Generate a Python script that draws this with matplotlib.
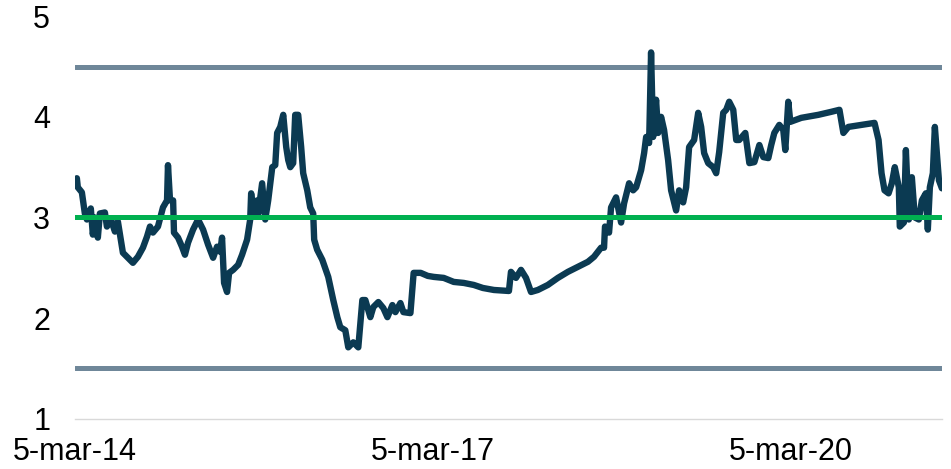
import numpy as np
import pandas as pd
import matplotlib
matplotlib.use("Agg")
import matplotlib.pyplot as plt
import matplotlib.dates as mdates

plt.rcParams['font.family'] = ['Liberation Sans', 'DejaVu Sans']

# fechas en años decimales y valor de la serie
anios = [2014.187, 2014.195, 2014.229, 2014.254, 2014.271, 2014.304, 2014.321, 2014.338,
         2014.363, 2014.380, 2014.422, 2014.439, 2014.473, 2014.506, 2014.531, 2014.573,
         2014.615, 2014.657, 2014.699, 2014.741, 2014.775, 2014.800, 2014.825, 2014.867,
         2014.909, 2014.943, 2014.951, 2014.968, 2014.994, 2015.002, 2015.036, 2015.069,
         2015.094, 2015.120, 2015.162, 2015.204, 2015.246, 2015.288, 2015.330, 2015.363,
         2015.389, 2015.405, 2015.422, 2015.447, 2015.464, 2015.498, 2015.540, 2015.573,
         2015.615, 2015.641, 2015.649, 2015.666, 2015.699, 2015.708, 2015.741, 2015.767,
         2015.792, 2015.826, 2015.851, 2015.867, 2015.893, 2015.918, 2015.943, 2015.960,
         2015.977, 2016.002, 2016.019, 2016.044, 2016.069, 2016.086, 2016.120, 2016.145,
         2016.170, 2016.178, 2016.203, 2016.246, 2016.296, 2016.338, 2016.372, 2016.397,
         2016.439, 2016.464, 2016.506, 2016.548, 2016.582, 2016.607, 2016.649, 2016.674,
         2016.716, 2016.758, 2016.792, 2016.834, 2016.859, 2016.901, 2016.926, 2016.985,
         2017.010, 2017.069, 2017.128, 2017.178, 2017.262, 2017.346, 2017.430, 2017.514,
         2017.590, 2017.683, 2017.809, 2017.826, 2017.868, 2017.910, 2017.952, 2017.994,
         2018.052, 2018.136, 2018.220, 2018.304, 2018.388, 2018.472, 2018.523, 2018.582,
         2018.607, 2018.615, 2018.649, 2018.666, 2018.708, 2018.750, 2018.775, 2018.817,
         2018.851, 2018.876, 2018.918, 2018.943, 2018.960, 2018.985, 2019.002, 2019.019,
         2019.044, 2019.061, 2019.086, 2019.111, 2019.145, 2019.170, 2019.212, 2019.237,
         2019.271, 2019.296, 2019.321, 2019.363, 2019.397, 2019.422, 2019.447, 2019.481,
         2019.523, 2019.548, 2019.573, 2019.607, 2019.632, 2019.657, 2019.691, 2019.716,
         2019.741, 2019.792, 2019.826, 2019.868, 2019.910, 2019.943, 2019.985, 2020.010,
         2020.036, 2020.078, 2020.111, 2020.128, 2020.153, 2020.170, 2020.262, 2020.405,
         2020.514, 2020.582, 2020.615, 2020.657, 2020.767, 2020.876, 2020.910, 2020.935,
         2020.960, 2020.994, 2021.019, 2021.044, 2021.078, 2021.086, 2021.120, 2021.137,
         2021.162, 2021.187, 2021.212, 2021.246, 2021.271, 2021.304, 2021.321, 2021.338,
         2021.363, 2021.380, 2021.414, 2021.439]

valores = [3.39, 3.30, 3.25, 3.04, 2.98, 3.09, 2.83, 3.00,
           2.80, 3.04, 3.05, 2.91, 2.98, 2.86, 2.96, 2.65,
           2.60, 2.55, 2.61, 2.70, 2.81, 2.91, 2.85, 2.91,
           3.10, 3.17, 3.52, 3.17, 3.17, 2.85, 2.80, 2.71,
           2.63, 2.75, 2.88, 2.98, 2.88, 2.73, 2.60, 2.71,
           2.66, 2.80, 2.35, 2.26, 2.45, 2.48, 2.53, 2.63,
           2.78, 2.98, 3.24, 3.04, 3.17, 3.04, 3.34, 2.98,
           3.17, 3.50, 3.52, 3.84, 3.90, 4.02, 3.70, 3.57,
           3.50, 3.54, 4.02, 4.02, 3.70, 3.44, 3.27, 3.10,
           3.04, 2.78, 2.68, 2.58, 2.41, 2.18, 2.01, 1.91,
           1.88, 1.71, 1.76, 1.71, 2.18, 2.18, 2.01, 2.11,
           2.16, 2.10, 2.01, 2.13, 2.06, 2.15, 2.06, 2.05,
           2.45, 2.45, 2.42, 2.41, 2.40, 2.36, 2.35, 2.33,
           2.30, 2.28, 2.27, 2.46, 2.40, 2.48, 2.40, 2.26,
           2.28, 2.33, 2.40, 2.46, 2.51, 2.56, 2.61, 2.70,
           2.70, 2.91, 2.85, 3.10, 3.20, 2.95, 3.14, 3.34,
           3.27, 3.30, 3.47, 3.64, 3.80, 3.74, 4.64, 3.80,
           4.17, 3.84, 4.00, 3.87, 3.57, 3.27, 3.07, 3.27,
           3.15, 3.30, 3.70, 3.77, 4.04, 3.90, 3.64, 3.54,
           3.50, 3.44, 3.65, 4.04, 4.07, 4.15, 4.07, 3.77,
           3.77, 3.84, 3.54, 3.55, 3.72, 3.60, 3.59, 3.72,
           3.84, 3.92, 3.87, 3.67, 4.15, 3.95, 3.99, 4.02,
           4.05, 4.07, 3.84, 3.90, 3.92, 3.94, 3.77, 3.44,
           3.27, 3.24, 3.34, 3.50, 3.30, 2.91, 2.95, 3.67,
           2.98, 3.40, 3.00, 2.98, 3.17, 3.24, 2.88, 3.30,
           3.44, 3.90, 3.37, 3.29]

media = 3.0
banda_sup = 4.5
banda_inf = 1.5

inicio = pd.Timestamp("2014-03-05")
fin = pd.Timestamp("2021-06-12")
ticks = pd.to_datetime(["2014-03-05", "2017-03-05", "2020-03-05"])
tick_labels = ["5-mar-14", "5-mar-17", "5-mar-20"]


def a_fecha(a):
    base = pd.Timestamp(int(a), 1, 1)
    return base + pd.Timedelta(days=(a - int(a)) * 365.25)


fechas = [a_fecha(a) for a in anios]

fig = plt.figure(figsize=(9.51, 4.69), dpi=100)
ax = fig.add_axes([0.079, 0.107, 0.912, 0.8585])

navy = "#0b3a52"
gris = "#6f8799"
verde = "#00b050"

ax.plot([inicio, fin], [banda_sup, banda_sup], color=gris, lw=3.6,
        solid_capstyle="round", zorder=2)
ax.plot([inicio, fin], [banda_inf, banda_inf], color=gris, lw=3.6,
        solid_capstyle="round", zorder=2)
ax.plot(fechas, valores, color=navy, lw=4.6, solid_joinstyle="round",
        solid_capstyle="round", zorder=3)
ax.plot([inicio, fin], [media, media], color=verde, lw=3.6, zorder=4)

ax.set_xlim(inicio, fin)
ax.set_ylim(1, 5)
ax.set_yticks([1, 2, 3, 4, 5])
ax.set_xticks(ticks)
ax.set_xticklabels(tick_labels)

for s in ["top", "right", "left"]:
    ax.spines[s].set_visible(False)
ax.spines["bottom"].set_color("#d9d9d9")
ax.spines["bottom"].set_linewidth(1.0)

ax.tick_params(axis="both", length=0, labelsize=22, colors="#000000")
ax.tick_params(axis="y", pad=18)
ax.tick_params(axis="x", pad=13)

fig.savefig("out.png", dpi=100)
